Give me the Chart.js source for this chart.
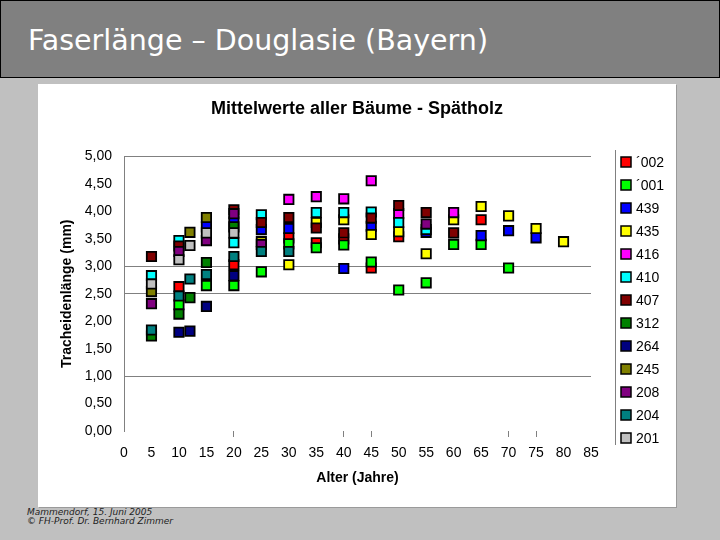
<!DOCTYPE html>
<html>
<head>
<meta charset="utf-8">
<script src="https://cdn.jsdelivr.net/npm/chart.js@4.4.1/dist/chart.umd.min.js"></script>
<style>
  html, body { margin: 0; padding: 0; }
  body { width: 720px; height: 540px; background: #c0c0c0; position: relative; overflow: hidden; }
  #head { position: absolute; left: 0; top: 0; width: 718px; height: 76px; background: #808080; border: 1px solid #000; }
  #head h1 { margin: 0; position: absolute; left: 27px; top: 23px; font: normal 28.5px "DejaVu Sans", sans-serif; color: #fff; white-space: nowrap; }
  #panel { position: absolute; left: 38px; top: 84px; width: 638px; height: 423px; background: #fff; box-shadow: 1px 1px 0 #9a9a9a; }
  #foot { position: absolute; left: 27px; top: 508px; font: italic 9px "DejaVu Sans", sans-serif; color: #222; line-height: 9px; }
</style>
</head>
<body>
<div id="head"><h1>Faserlänge – Douglasie (Bayern)</h1></div>
<div id="panel"><canvas id="myChart" width="638" height="423"></canvas></div>
<div id="foot">Mammendorf, 15. Juni 2005<br>© FH-Prof. Dr. Bernhard Zimmer</div>
<script>
// tree series: age (years) and mean tracheid length (mm)
var names  = ["´002", "´001", "439", "435", "416", "410", "407", "312", "264", "245", "208", "204", "201"];
var colors = ["#ff0000", "#00ff00", "#0000ff", "#ffff00", "#ff00ff", "#00ffff", "#800000",
              "#008000", "#000080", "#808000", "#800080", "#008080", "#c0c0c0"];

var age002 = [10, 20, 30, 35, 40, 45, 50, 65];
var len002 = [2.63, 3.03, 3.52, 3.43, 3.50, 2.97, 3.54, 3.85];
var age001 = [10, 15, 20, 25, 30, 35, 40, 45, 50, 55, 60, 65, 70];
var len001 = [2.30, 2.65, 2.65, 2.90, 3.41, 3.34, 3.39, 3.08, 2.57, 2.70, 3.40, 3.40, 2.97];
var age439 = [15, 20, 25, 30, 40, 45, 55, 65, 70, 75];
var len439 = [3.72, 3.81, 3.67, 3.69, 2.96, 3.73, 3.62, 3.56, 3.65, 3.52];
var age435 = [25, 30, 35, 40, 45, 50, 55, 60, 65, 70, 75, 80];
var len435 = [3.45, 3.03, 3.80, 3.85, 3.58, 3.63, 3.23, 3.85, 4.09, 3.92, 3.69, 3.45];
var age416 = [30, 35, 40, 45, 50, 60];
var len416 = [4.22, 4.27, 4.23, 4.56, 3.96, 3.98];
var age410 = [5, 10, 20, 25, 35, 40, 45, 50, 55];
var len410 = [2.83, 3.47, 3.43, 3.94, 3.98, 3.98, 3.99, 3.80, 3.67];
var age407 = [5, 10, 20, 25, 30, 35, 40, 45, 50, 55, 60];
var len407 = [3.18, 3.37, 4.03, 3.80, 3.89, 3.70, 3.61, 3.88, 4.11, 3.98, 3.61];
var age312 = [5, 10, 12, 15, 20];
var len312 = [1.73, 2.13, 2.43, 3.07, 3.72];
var age264 = [10, 12, 15, 20];
var len264 = [1.80, 1.82, 2.27, 2.83];
var age245 = [5, 12, 15];
var len245 = [2.54, 3.62, 3.89];
var age208 = [5, 10, 15, 20, 25, 55];
var len208 = [2.32, 3.27, 3.47, 3.96, 3.40, 3.77];
var age204 = [5, 10, 12, 15, 20, 25, 30];
var len204 = [1.84, 2.46, 2.77, 2.85, 3.18, 3.27, 3.27];
var age201 = [5, 10, 12, 15, 20];
var len201 = [2.68, 3.12, 3.38, 3.61, 3.61];

var ages = [age002, age001, age439, age435, age416, age410, age407, age312, age264, age245, age208, age204, age201];
var lens = [len002, len001, len439, len435, len416, len410, len407, len312, len264, len245, len208, len204, len201];

var yGridAt = [1, 2.5, 3, 5];      // only these lines show in the picture
var xTickAt = [20, 40, 45, 70, 75];

var font = '"Liberation Sans", Arial, sans-serif';
Chart.defaults.font.family = font;
Chart.defaults.color = "#000";

// later trees are drawn over earlier ones, chart.js puts index 0 on top -> reverse
var datasets = [];
for (var i = names.length - 1; i >= 0; i--) {
    var pts = [];
    for (var j = 0; j < ages[i].length; j++) pts.push({x: ages[i][j], y: lens[i][j]});
    datasets.push({
        label: names[i],
        data: pts,
        backgroundColor: colors[i],
        borderColor: "#000",
        borderWidth: 1.8,
        pointStyle: "rect",
        pointRadius: 6.6
    });
}

// empty box on the right so the plot leaves room for the legend (title stays centred)
var rightGap = {
    id: "rightGap",
    beforeInit: function(chart) {
        Chart.layouts.addBox(chart, {
            position: "right",
            weight: 0,
            fullSize: false,
            options: {},
            left: 0, top: 0, right: 0, bottom: 0, width: 0, height: 0,
            isHorizontal: function() { return false; },
            update: function(w, h) { this.width = 85; this.height = h; },
            draw: function() {}
        });
    }
};

// legend at the right with a rule in front, same order as the original
var sideLegend = {
    id: "sideLegend",
    afterDraw: function(chart) {
        var ctx = chart.ctx;
        var sets = chart.data.datasets.slice().reverse();
        ctx.save();
        ctx.strokeStyle = "#808080";
        ctx.lineWidth = 1;
        ctx.beginPath();
        ctx.moveTo(577.5, 66);
        ctx.lineTo(577.5, 361);
        ctx.stroke();
        ctx.font = "14px " + font;
        ctx.textBaseline = "middle";
        for (var k = 0; k < sets.length; k++) {
            var y = 78 + k * 23;
            ctx.fillStyle = sets[k].backgroundColor;
            ctx.fillRect(583, y - 5, 10, 10);
            ctx.strokeStyle = "#000";
            ctx.lineWidth = 1.5;
            ctx.strokeRect(583, y - 5, 10, 10);
            ctx.fillStyle = "#000";
            ctx.fillText(sets[k].label, 598, y + 1);
        }
        ctx.restore();
    }
};

var ctx = document.getElementById("myChart");
var myChart = new Chart(ctx, {
    type: "scatter",
    data: { datasets: datasets },
    plugins: [rightGap, sideLegend],
    options: {
        responsive: false,
        animation: false,
        plugins: {
            legend: { display: false },
            tooltip: { enabled: false },
            title: {
                display: true,
                text: "Mittelwerte aller Bäume - Spätholz",
                font: { size: 18, weight: "bold" },
                color: "#000",
                padding: { top: 14, bottom: 37 }
            }
        },
        scales: {
            x: {
                type: "linear",
                min: 0,
                max: 85,
                afterFit: function(s) { s.height = 76; },
                ticks: { stepSize: 5, font: { size: 14 }, padding: 8, maxRotation: 0 },
                grid: {
                    drawOnChartArea: false,
                    tickLength: 6,
                    color: function(c) { return xTickAt.indexOf(c.tick.value) >= 0 ? "#808080" : "rgba(0,0,0,0)"; }
                },
                border: { display: false },
                title: { display: true, text: "Alter (Jahre)", font: { size: 14, weight: "bold" }, padding: { top: 0, bottom: 20 } }
            },
            y: {
                min: 0,
                max: 5,
                afterFit: function(s) { s.width = 86; },
                ticks: {
                    stepSize: 0.5,
                    font: { size: 14 },
                    padding: 12,
                    callback: function(v) { return v.toFixed(2).replace(".", ","); }
                },
                grid: {
                    drawTicks: false,
                    color: function(c) { return yGridAt.indexOf(c.tick.value) >= 0 ? "#808080" : "rgba(0,0,0,0)"; }
                },
                border: { display: true, color: "#808080" },
                title: { display: true, text: "Tracheidenlänge (mm)", font: { size: 14, weight: "bold" }, padding: { top: 21, bottom: 0 } }
            }
        }
    }
});
</script>
</body>
</html>
